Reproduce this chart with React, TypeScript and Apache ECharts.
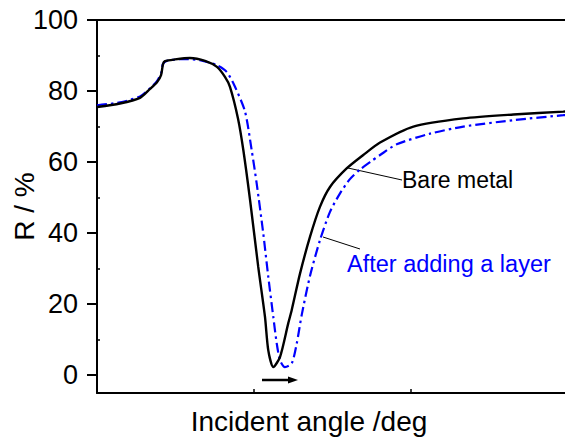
import React, { useEffect, useRef } from "react";
import * as echarts from "echarts";

// Incident angle (deg) / reflectance (%) for the bare metal
const bareAngle = [40.0, 41.46, 42.74, 43.38, 43.82, 44.08, 44.2, 44.33, 44.97, 45.92, 46.88, 47.64, 48.15, 48.47, 48.98, 49.32, 49.75, 50.27, 50.7, 50.91, 51.23, 51.66, 52.18, 52.4, 52.93, 53.57, 54.2, 54.84, 55.9, 56.96, 58.03, 60.15, 63.33, 66.52, 69.7, 70.0];
const bareR = [75.5, 76.5, 78.1, 80.6, 82.5, 84.5, 87.5, 88.4, 88.9, 89.3, 88.5, 86.8, 84.0, 81.2, 72.3, 63.4, 49.3, 30.5, 16.4, 7.0, 2.3, 5.2, 14.6, 18.3, 28.6, 39.0, 47.4, 53.0, 58.2, 62.0, 65.5, 70.0, 72.3, 73.4, 74.2, 74.3];

// After adding a layer
const layerAngle = [40.0, 41.46, 42.74, 43.38, 43.82, 44.08, 44.2, 44.44, 45.5, 46.56, 47.62, 48.26, 48.79, 49.43, 49.85, 50.17, 50.59, 50.91, 51.23, 51.45, 51.66, 51.97, 52.4, 52.72, 53.04, 53.57, 54.2, 54.84, 55.48, 56.11, 56.75, 57.39, 58.03, 59.09, 61.21, 63.33, 66.52, 69.7, 70.0];
const layerR = [76.0, 76.8, 78.5, 80.8, 82.8, 85.0, 87.6, 88.5, 89.0, 88.7, 87.3, 85.4, 81.2, 74.2, 63.4, 54.0, 39.9, 27.7, 16.4, 8.9, 4.2, 2.3, 3.3, 8.9, 17.0, 28.0, 38.0, 46.0, 51.2, 55.2, 57.9, 60.0, 62.0, 65.0, 68.0, 70.0, 71.8, 73.2, 73.3];

const yMajor = [0, 20, 40, 60, 80, 100];
const yMinor = [10, 30, 50, 70, 90];

const FONT = "'Liberation Sans', Arial, Helvetica, sans-serif";

export default function App() {
  const ref = useRef<HTMLDivElement>(null);
  useEffect(() => {
    if (!ref.current) return;
    const chart = echarts.init(ref.current, null, { renderer: "svg" });
    const bare = bareAngle.map((a, i) => [a, bareR[i]]);
    const layer = layerAngle.map((a, i) => [a, layerR[i]]);
    chart.setOption({
      animation: false,
      backgroundColor: "#ffffff",
      grid: { left: 97, top: 20, width: 471, height: 373, containLabel: false, outerBoundsMode: "none" },
      xAxis: [
        {
          type: "value",
          min: 40,
          max: 70,
          interval: 10,
          axisLine: { show: true, onZero: false, lineStyle: { color: "#000", width: 2 } },
          axisTick: { show: true, inside: true, length: 4, lineStyle: { color: "#000", width: 1.5 } },
          axisLabel: { show: false },
          splitLine: { show: false },
        },
        {
          type: "value",
          position: "top",
          min: 40,
          max: 70,
          axisLine: { show: true, onZero: false, lineStyle: { color: "#000", width: 2 } },
          axisTick: { show: false },
          axisLabel: { show: false },
          splitLine: { show: false },
        },
      ],
      yAxis: [
        {
          type: "value",
          min: -5,
          max: 100,
          axisLine: { show: true, onZero: false, lineStyle: { color: "#000", width: 2 } },
          axisTick: { show: true, inside: false, length: 10, customValues: yMajor, lineStyle: { color: "#000", width: 2 } },
          axisLabel: { show: true, customValues: yMajor, margin: 19, fontFamily: FONT, fontSize: 27, color: "#000" },
          splitLine: { show: false },
          name: "R / %",
          nameLocation: "middle",
          nameRotate: 90,
          nameGap: 59,
          nameMoveOverlap: false,
          nameTextStyle: { fontFamily: FONT, fontSize: 28, color: "#000" },
        },
        {
          type: "value",
          position: "left",
          min: -5,
          max: 100,
          axisLine: { show: false },
          axisTick: { show: true, inside: true, length: 3, customValues: yMinor, lineStyle: { color: "#000", width: 1.5 } },
          axisLabel: { show: false },
          splitLine: { show: false },
        },
      ],
      series: [
        {
          type: "line",
          name: "After adding a layer",
          data: layer,
          showSymbol: false,
          smooth: 0.25,
          lineStyle: { color: "#0000ff", width: 2.2, type: [10, 4, 2.5, 4] },
          z: 2,
        },
        {
          type: "line",
          name: "Bare metal",
          data: bare,
          showSymbol: false,
          smooth: 0.25,
          lineStyle: { color: "#000", width: 2.4 },
          z: 3,
        },
      ],
      graphic: [
        { type: "text", x: 309, y: 421, style: { text: "Incident angle /deg", fontFamily: FONT, fontSize: 28, fill: "#000", align: "center", verticalAlign: "middle" } },
        { type: "line", shape: { x1: 348, y1: 168, x2: 402, y2: 180 }, style: { stroke: "#000", lineWidth: 1 } },
        { type: "text", left: 402, top: 168, style: { text: "Bare metal", fontFamily: FONT, fontSize: 23, fill: "#000" } },
        { type: "line", shape: { x1: 323, y1: 237, x2: 360, y2: 249 }, style: { stroke: "#000", lineWidth: 1 } },
        { type: "text", left: 347, top: 252, style: { text: "After adding a layer", fontFamily: FONT, fontSize: 23.5, fill: "#0000ff" } },
        { type: "line", shape: { x1: 262, y1: 380, x2: 290, y2: 380 }, style: { stroke: "#000", lineWidth: 2.5 } },
        { type: "polygon", shape: { points: [[288, 376.5], [298, 380], [288, 383.5]] }, style: { fill: "#000" } },
      ],
    });
    return () => chart.dispose();
  }, []);
  return <div ref={ref} style={{ width: 565, height: 441, position: "absolute", left: 0, top: 0 }} />;
}
